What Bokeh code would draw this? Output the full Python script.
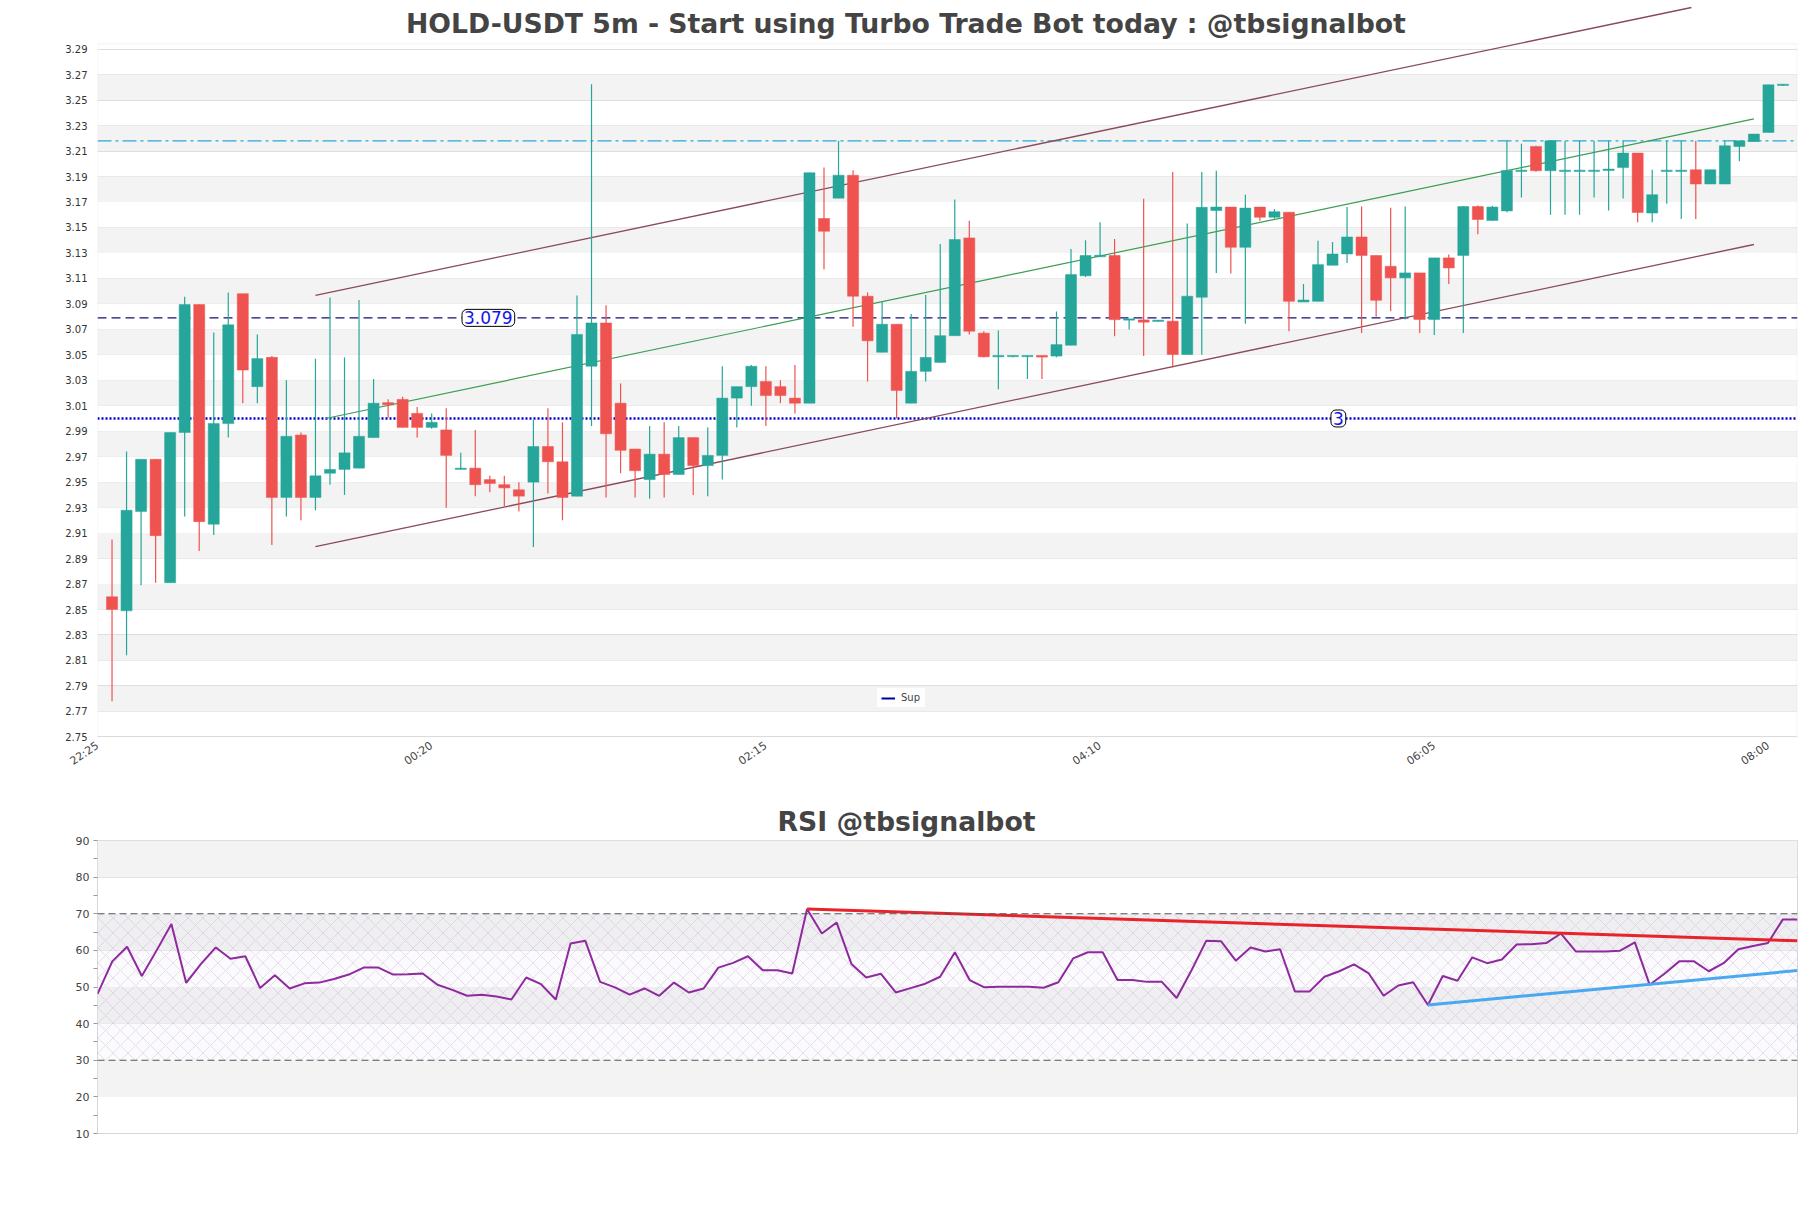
import math
from bokeh.plotting import figure
from bokeh.layouts import column
from bokeh.models import (Range1d, FixedTicker, Label, Legend, LegendItem, Span,
                          BoxAnnotation, ColumnDataSource)
from bokeh.embed import file_html
from bokeh.resources import INLINE

# ---------------- data ----------------
opens = [2.860, 2.849, 2.927, 2.968, 2.871, 2.989, 3.0895, 2.917, 2.996, 3.098,
         3.025, 3.048, 2.938, 2.987, 2.938, 2.957, 2.960, 2.961, 2.985, 3.0124,
         3.015, 3.004, 2.993, 2.991, 2.960, 2.961, 2.952, 2.948, 2.944, 2.950,
         2.978, 2.966, 2.939, 3.041, 3.075, 3.012, 2.976, 2.952, 2.972, 2.956,
         2.985, 2.963, 2.971, 3.016, 3.025, 3.029, 3.025, 3.016, 3.012, 3.157,
         3.173, 3.191, 3.096, 3.052, 3.074, 3.012, 3.037, 3.044, 3.065, 3.1418,
         3.067, 3.0484, 3.0485, 3.0485, 3.0495, 3.049, 3.0575, 3.112, 3.127, 3.128,
         3.0772, 3.0774, 3.0762, 3.0764, 3.0502, 3.0952, 3.1633, 3.166, 3.1344, 3.166,
         3.158, 3.162, 3.0915, 3.092, 3.1203, 3.1292, 3.1425, 3.128, 3.1195, 3.1104,
         3.1143, 3.0777, 3.1261, 3.128, 3.1664, 3.1555, 3.163, 3.1940, 3.2136, 3.1945,
         3.1940, 3.1940, 3.1940, 3.1947, 3.197, 3.2084, 3.1613, 3.1940, 3.1940, 3.1953,
         3.1841, 3.1841, 3.2136, 3.2175, 3.2246, 3.2615]
highs = [2.905, 2.974, 2.968, 2.968, 2.989, 3.0955, 3.0895, 3.0675, 3.099, 3.098,
         3.066, 3.049, 3.030, 2.989, 3.047, 3.095, 3.048, 3.093, 3.031, 3.015,
         3.017, 3.009, 3.004, 3.008, 2.973, 2.991, 2.955, 2.955, 2.950, 2.999,
         3.008, 2.997, 3.0965, 3.2625, 3.089, 3.0275, 2.976, 2.994, 2.997, 2.994,
         2.985, 2.993, 3.041, 3.025, 3.042, 3.041, 3.030, 3.042, 3.193, 3.197,
         3.218, 3.195, 3.099, 3.092, 3.074, 3.082, 3.097, 3.137, 3.172, 3.1553,
         3.0685, 3.069, 3.0495, 3.0495, 3.0495, 3.084, 3.133, 3.140, 3.154, 3.141,
         3.078, 3.1726, 3.0772, 3.1935, 3.153, 3.1935, 3.1945, 3.166, 3.1757, 3.166,
         3.1645, 3.162, 3.1056, 3.1396, 3.1386, 3.166, 3.1664, 3.128, 3.1654, 3.1664,
         3.1143, 3.1261, 3.1287, 3.1664, 3.1672, 3.167, 3.218, 3.2157, 3.2141, 3.218,
         3.218, 3.218, 3.218, 3.218, 3.218, 3.2084, 3.1953, 3.218, 3.218, 3.218,
         3.1953, 3.218, 3.218, 3.2233, 3.262, 3.2625]
lows = [2.778, 2.814, 2.869, 2.871, 2.871, 2.923, 2.896, 2.9086, 2.985, 3.012,
        3.012, 2.9007, 2.923, 2.920, 2.928, 2.948, 2.940, 2.961, 2.985, 3.0006,
        2.993, 2.985, 2.992, 2.930, 2.960, 2.939, 2.942, 2.931, 2.927, 2.899,
        2.941, 2.920, 2.939, 2.994, 2.938, 2.957, 2.938, 2.937, 2.938, 2.956,
        2.940, 2.939, 2.952, 2.993, 3.010, 2.994, 3.012, 3.004, 3.012, 3.117,
        3.173, 3.072, 3.029, 3.052, 3.000, 3.012, 3.029, 3.044, 3.065, 3.066,
        3.048, 3.023, 3.048, 3.031, 3.031, 3.048, 3.0575, 3.111, 3.127, 3.0646,
        3.0698, 3.049, 3.0762, 3.040, 3.0502, 3.050, 3.1143, 3.1138, 3.0743, 3.1553,
        3.157, 3.0685, 3.0915, 3.092, 3.1203, 3.122, 3.0672, 3.0798, 3.0842, 3.0777,
        3.0672, 3.0656, 3.1056, 3.0672, 3.1447, 3.1555, 3.162, 3.1736, 3.1937, 3.160,
        3.160, 3.160, 3.1736, 3.1634, 3.1728, 3.154, 3.154, 3.1686, 3.1566, 3.1566,
        3.1841, 3.1841, 3.2019, 3.2175, 3.2246, 3.2610]
closes = [2.850, 2.928, 2.968, 2.908, 2.989, 3.0895, 2.919, 2.996, 3.0735, 3.038,
          3.047, 2.938, 2.986, 2.938, 2.955, 2.960, 2.973, 2.986, 3.012, 3.0108,
          2.993, 2.993, 2.997, 2.971, 2.961, 2.948, 2.949, 2.9455, 2.939, 2.978,
          2.966, 2.938, 3.066, 3.075, 2.988, 2.975, 2.959, 2.972, 2.956, 2.985,
          2.963, 2.971, 3.016, 3.025, 3.041, 3.018, 3.018, 3.012, 3.193, 3.147,
          3.191, 3.096, 3.061, 3.074, 3.022, 3.037, 3.048, 3.065, 3.1405, 3.0685,
          3.0484, 3.0495, 3.0495, 3.0495, 3.0482, 3.058, 3.113, 3.128, 3.1282, 3.0776,
          3.0782, 3.0756, 3.0772, 3.0502, 3.096, 3.1658, 3.166, 3.1344, 3.1652, 3.158,
          3.1624, 3.092, 3.093, 3.1208, 3.1292, 3.1425, 3.128, 3.0928, 3.1104, 3.1143,
          3.0777, 3.1261, 3.1182, 3.1664, 3.1562, 3.166, 3.1948, 3.1950, 3.1945, 3.218,
          3.1950, 3.1950, 3.1950, 3.1958, 3.2084, 3.1618, 3.1757, 3.1950, 3.1950, 3.1841,
          3.1953, 3.2141, 3.218, 3.2233, 3.262, 3.2625]

rsi = [48.1, 57.0, 61.0, 53.0, 60.0, 67.2, 51.1, 56.3, 60.8, 57.7,
       58.4, 49.7, 53.2, 49.6, 51.0, 51.2, 52.2, 53.4, 55.3, 55.3,
       53.4, 53.5, 53.7, 50.6, 49.2, 47.6, 47.9, 47.4, 46.6, 52.6,
       50.8, 46.6, 61.9, 62.6, 51.4, 49.9, 47.9, 49.6, 47.6, 51.2,
       48.5, 49.6, 55.3, 56.6, 58.4, 54.6, 54.6, 53.7, 71.3, 64.6,
       67.6, 56.3, 52.6, 53.6, 48.5, 49.7, 50.9, 52.8, 59.5, 51.9,
       49.9, 50.1, 50.1, 50.1, 49.8, 51.3, 57.8, 59.5, 59.5, 51.9,
       51.9, 51.4, 51.4, 47.0, 54.5, 62.6, 62.5, 57.2, 60.8, 59.7,
       60.3, 48.8, 48.8, 52.8, 54.3, 56.2, 53.7, 47.6, 50.4, 51.3,
       45.1, 53.0, 51.7, 58.1, 56.5, 57.5, 61.6, 61.7, 62.0, 64.6,
       59.7, 59.7, 59.7, 59.9, 62.2, 50.6, 53.6, 57.0, 57.0, 54.3,
       56.5, 60.3, 61.2, 62.0, 68.4, 68.4]

tick_pos = [-1, 22, 45, 68, 91, 114]
tick_labels = ["22:25", "00:20", "02:15", "04:10", "06:05", "08:00"]

support_level = 3.0
pivot_level = 3.079
resist_level = 3.218

upper_x = [14, 108.7]
upper_y = [3.0967, 3.3227]
lower_x = [14, 113]
lower_y = [2.8993, 3.1366]
mid_x = [14.7, 113]
mid_y = [3.0, 3.2353]

rsi_res_x = [48, 115]
rsi_res_y = [71.3, 62.6]
rsi_sup_x = [90, 115]
rsi_sup_y = [45.1, 54.5]

price_ticks = [round(2.75 + 0.02 * i, 2) for i in range(28)]
gray_band_bottoms = [2.77, 2.81, 2.85, 2.89, 2.93, 2.97, 3.01, 3.05, 3.09, 3.13, 3.17, 3.21, 3.25]

MAIN_TITLE = "HOLD-USDT 5m - Start using Turbo Trade Bot today : @tbsignalbot"
RSI_TITLE = "RSI @tbsignalbot"

# ---------------- styles ----------------
UP = "#26a69a"
DOWN = "#ef5350"
BAND = "#f3f3f3"
GRID = "#dedede"
FRAME = "#d6d6d6"
FONT = "DejaVu Sans"
TITLE_SIZE = "26.7px"

X0, X1 = -1, 116
Y_BOT, Y_TOP_AXES, Y_TOP = 2.7495, 3.2942, 3.3282

idx = list(range(len(opens)))
colors = [UP if c >= o else DOWN for o, c in zip(opens, closes)]
src = ColumnDataSource(dict(
    x=idx, o=opens, h=highs, l=lows, c=closes,
    top=[max(o, c) for o, c in zip(opens, closes)],
    bot=[min(o, c) for o, c in zip(opens, closes)],
    color=colors))

# ---------------- main chart ----------------
# frame extends to the top of the canvas so that the channel line can run past the axes box
p = figure(width=1811, height=790, x_range=Range1d(X0, X1), y_range=Range1d(Y_BOT, Y_TOP),
           output_backend="svg", toolbar_location=None,
           min_border_left=97, min_border_right=14, min_border_top=0, min_border_bottom=53)
p.outline_line_color = None
p.background_fill_color = "white"

for b in gray_band_bottoms:
    p.add_layout(BoxAnnotation(bottom=b, top=b + 0.02, fill_color=BAND, fill_alpha=1.0,
                               line_alpha=0, level="underlay"))
# axes box
p.add_layout(BoxAnnotation(left=X0 + 0.02, right=X1 - 0.03, bottom=Y_BOT + 0.0003, top=Y_TOP_AXES,
                           fill_alpha=0, line_color=FRAME, line_width=1, level="underlay"))

p.xgrid.visible = False
p.ygrid.grid_line_color = GRID
p.ygrid.grid_line_width = 1
p.ygrid.ticker = FixedTicker(ticks=price_ticks)

p.yaxis.ticker = FixedTicker(ticks=price_ticks)
p.yaxis.major_label_overrides = {t: "%.2f" % t for t in price_ticks}
p.yaxis.axis_line_color = None
p.yaxis.major_tick_line_color = None
p.yaxis.minor_tick_line_color = None
p.yaxis.major_label_text_font = FONT
p.yaxis.major_label_text_font_size = "10px"
p.yaxis.major_label_text_color = "#333333"
p.yaxis.major_label_standoff = 4

p.xaxis.ticker = FixedTicker(ticks=tick_pos)
p.xaxis.major_label_overrides = {t: s for t, s in zip(tick_pos, tick_labels)}
p.xaxis.axis_line_color = None
p.xaxis.major_tick_line_color = None
p.xaxis.minor_tick_line_color = None
p.xaxis.major_label_orientation = 0.6
p.xaxis.major_label_text_font = FONT
p.xaxis.major_label_text_font_size = "11px"
p.xaxis.major_label_text_color = "#444444"
p.xaxis.major_label_standoff = 1

# title drawn inside the extended frame, centred on the page
p.add_layout(Label(x=54.64, y=3.3105, text=MAIN_TITLE, text_align="center", text_baseline="middle",
                   text_font=FONT, text_font_size=TITLE_SIZE, text_font_style="bold",
                   text_color="#444444"))

# level lines (limited to the axes box)
p.segment(x0=[X0], y0=[resist_level], x1=[X1], y1=[resist_level], line_color="#2aa7d6",
          line_width=1.2, line_dash="14 4 3 4")
p.segment(x0=[X0], y0=[pivot_level], x1=[X1], y1=[pivot_level], line_color="#10107a",
          line_width=1.3, line_dash="9 5")
p.segment(x0=[X0], y0=[support_level], x1=[X1], y1=[support_level], line_color="#0000c8",
          line_width=2.6, line_dash="2 2")
# legend proxy for the support line (not drawn in the plot)
sup_legend_r = p.line(x=[X0, X1], y=[support_level, support_level], line_color="#0000a0",
                      line_width=2, visible=False)

# channel lines
p.line(upper_x, upper_y, line_color="#8a4a5c", line_width=1.3)
p.line(lower_x, lower_y, line_color="#8a4a5c", line_width=1.3)
p.line(mid_x, mid_y, line_color="#3a9d52", line_width=1.2)

# candles
p.segment(x0="x", y0="h", x1="x", y1="l", color="color", line_width=1.2, source=src)
p.vbar(x="x", top="top", bottom="bot", width=0.76, fill_color="color", line_color="color",
       line_width=0.5, source=src)

# level labels
p.add_layout(Label(x=25.9, y=pivot_level, text="3.079", text_align="center", text_baseline="middle",
                   text_color="#1414e6", text_font=FONT, text_font_size="17px",
                   background_fill_color="white", border_line_color="black", border_line_width=1,
                   padding=2, border_radius=5))
p.add_layout(Label(x=84.4, y=support_level, text="3", text_align="center", text_baseline="middle",
                   text_color="#1414e6", text_font=FONT, text_font_size="17px",
                   background_fill_color="white", border_line_color="black", border_line_width=1,
                   padding=2, border_radius=5))

legend = Legend(items=[LegendItem(label="Sup", renderers=[sup_legend_r])], location=(780, 30),
                label_text_font=FONT, label_text_font_size="10px", glyph_width=14, glyph_height=10,
                padding=4, spacing=0, margin=0, background_fill_alpha=0.85, border_line_alpha=0,
                label_height=10, label_standoff=6, inactive_fill_alpha=0.0)
p.add_layout(legend)

# ---------------- RSI chart ----------------
q = figure(width=1811, height=418, x_range=Range1d(0, 115), y_range=Range1d(10, 90),
           output_backend="svg", toolbar_location=None,
           min_border_left=97, min_border_right=14, min_border_top=50, min_border_bottom=75)
q.title.text = RSI_TITLE
q.title.align = "left"
q.title.offset = 680
q.title.text_font = FONT
q.title.text_font_size = TITLE_SIZE
q.title.text_font_style = "bold"
q.title.text_color = "#444444"
q.title.standoff = 7
q.outline_line_color = FRAME

for b in [20, 40, 60, 80]:
    q.add_layout(BoxAnnotation(bottom=b, top=b + 10, fill_color=BAND, fill_alpha=1.0,
                               line_alpha=0, level="underlay"))
q.quad(left=0, right=115, bottom=30, top=70, fill_color="#b8a0c8", fill_alpha=0.05, line_alpha=0,
       hatch_pattern="diagonal_cross", hatch_color="#c4a8d6", hatch_alpha=0.6,
       hatch_scale=15, hatch_weight=0.6)

q.xgrid.visible = False
q.ygrid.grid_line_color = GRID
q.ygrid.ticker = FixedTicker(ticks=[20, 40, 50, 60, 80])
q.xaxis.visible = False
q.yaxis.ticker = FixedTicker(ticks=list(range(10, 100, 10)), minor_ticks=list(range(15, 90, 10)))
q.yaxis.axis_line_color = None
q.yaxis.major_tick_line_color = "#999999"
q.yaxis.minor_tick_line_color = "#999999"
q.yaxis.major_tick_out = 4
q.yaxis.major_tick_in = 0
q.yaxis.minor_tick_out = 4
q.yaxis.minor_tick_in = 0
q.yaxis.major_label_text_font = FONT
q.yaxis.major_label_text_font_size = "11px"
q.yaxis.major_label_text_color = "#444444"
q.yaxis.major_label_standoff = 4

q.add_layout(Span(location=70, dimension="width", line_color="#555555", line_width=1.2, line_dash="7 4"))
q.add_layout(Span(location=30, dimension="width", line_color="#555555", line_width=1.2, line_dash="7 4"))

q.line(x=list(range(len(rsi))), y=rsi, line_color="#8e2a9e", line_width=2)
q.line(rsi_res_x, rsi_res_y, line_color="#e8232a", line_width=3)
q.line(rsi_sup_x, rsi_sup_y, line_color="#4aa8f0", line_width=3)

layout = column(p, q, spacing=0)
open("out.html", "w").write(file_html(layout, INLINE))
